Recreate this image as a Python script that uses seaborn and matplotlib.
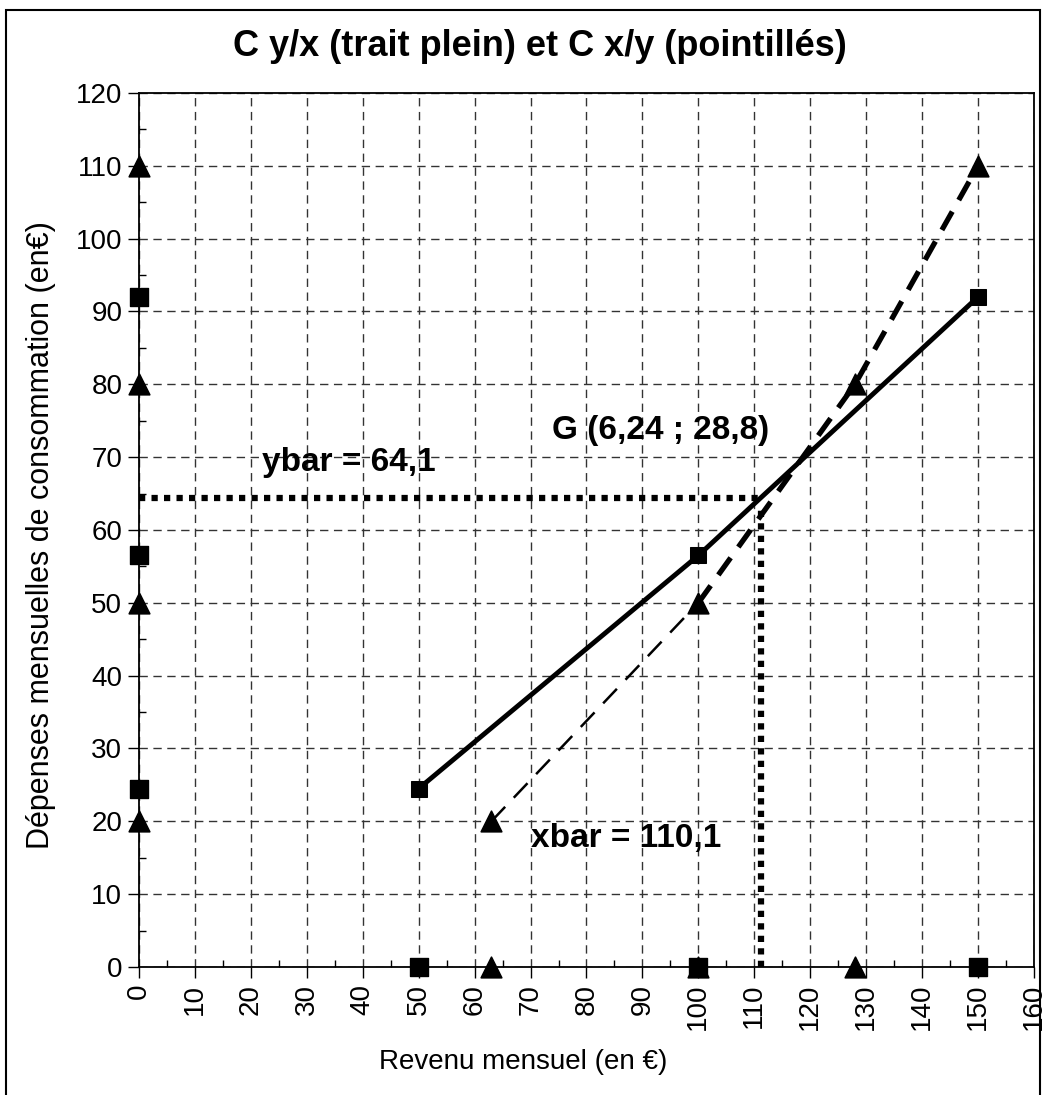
import numpy as np
import pandas as pd
import matplotlib
matplotlib.use("Agg")
import matplotlib.pyplot as plt
from matplotlib.patches import Rectangle
import seaborn as sns

# Droite C y/x (trait plein) : points carres
yx_revenu = [50, 100, 150]
yx_depense = [24.5, 56.5, 92]

# Droite C x/y (pointilles) : points triangles
xy_revenu = [63, 100, 128, 150]
xy_depense = [20, 50, 80, 110]

# Point moyen
xbar_line = 111.2
ybar_line = 64.4
g_label = "G (6,24 ; 28,8)"
ybar_label = "ybar = 64,1"
xbar_label = "xbar = 110,1"

x_ticks = list(range(0, 161, 10))
y_ticks = list(range(0, 121, 10))

sns.set_style("white")
plt.rcParams['font.family'] = ['Liberation Sans', 'DejaVu Sans']
plt.rcParams['text.color'] = 'black'
plt.rcParams['axes.labelcolor'] = 'black'
plt.rcParams['xtick.color'] = 'black'
plt.rcParams['ytick.color'] = 'black'

fig = plt.figure(figsize=(10.46, 10.95), dpi=100)
ax = fig.add_axes([0.1329, 0.1169, 0.8556, 0.7982])

# grille pointillee
ax.set_xticks(x_ticks)
ax.set_yticks(y_ticks)
ax.set_xticks(np.arange(5, 160, 10), minor=True)
ax.set_yticks(np.arange(5, 120, 10), minor=True)
ax.grid(True, which='major', color='#333333', linestyle=(0, (6, 4)), linewidth=1)
ax.set_axisbelow(True)

# lignes moyennes (pointilles epais)
ax.plot([0, xbar_line], [ybar_line, ybar_line], color='black', lw=4.5,
        linestyle=(0, (1, 1)), dash_capstyle='butt', zorder=3)
ax.plot([xbar_line, xbar_line], [0, 62.7], color='black', lw=4.5,
        linestyle=(0, (1, 1)), dash_capstyle='butt', zorder=3)

# C y/x
yx = pd.DataFrame({'revenu': yx_revenu, 'depense': yx_depense})
sns.lineplot(data=yx, x='revenu', y='depense', ax=ax, color='black', lw=3.5,
             marker='s', markersize=12, markeredgecolor='black', zorder=4)

# C x/y
xy = pd.DataFrame({'revenu': xy_revenu, 'depense': xy_depense})
sns.lineplot(data=xy.iloc[:2], x='revenu', y='depense', ax=ax, color='black',
             lw=1.8, zorder=4)
ax.lines[-1].set_linestyle((0, (8, 5)))
sns.lineplot(data=xy.iloc[1:], x='revenu', y='depense', ax=ax, color='black',
             lw=3.8, zorder=4)
ax.lines[-1].set_linestyle((0, (4, 2.5)))
sns.scatterplot(data=xy, x='revenu', y='depense', ax=ax, color='black',
                marker='^', s=220, edgecolor='black', zorder=5)

# projections sur les axes
sns.scatterplot(x=[0] * len(yx_depense), y=yx_depense, ax=ax, color='black',
                marker='s', s=150, edgecolor='black', clip_on=False, zorder=6)
sns.scatterplot(x=yx_revenu, y=[0] * len(yx_revenu), ax=ax, color='black',
                marker='s', s=150, edgecolor='black', clip_on=False, zorder=6)
sns.scatterplot(x=[0] * len(xy_depense), y=xy_depense, ax=ax, color='black',
                marker='^', s=220, edgecolor='black', clip_on=False, zorder=6)
sns.scatterplot(x=xy_revenu[:3], y=[0] * 3, ax=ax, color='black',
                marker='^', s=220, edgecolor='black', clip_on=False, zorder=6)

ax.set_xlim(0, 160)
ax.set_ylim(0, 120)

# textes
ax.text(22, 69.3, ybar_label, fontsize=24, fontweight='bold', va='center', ha='left')
ax.text(73.8, 73.6, g_label, fontsize=24, fontweight='bold', va='center', ha='left')
ax.text(70, 17.7, xbar_label, fontsize=24, fontweight='bold', va='center', ha='left')

ax.set_title("C y/x (trait plein) et C x/y (pointillés)", fontsize=26,
             fontweight='bold', x=0.448, y=1.033)
ax.set_xlabel("Revenu mensuel (en €)", fontsize=20)
ax.set_ylabel("Dépenses mensuelles de consommation (en€)", fontsize=22)
ax.xaxis.set_label_coords(0.429, -0.094)
ax.yaxis.set_label_coords(-0.093, 0.494)

ax.tick_params(axis='both', which='major', direction='out', length=8, width=1,
               color='black', labelsize=20, pad=4)
ax.tick_params(axis='both', which='minor', direction='in', length=5, width=1,
               color='black')
ax.tick_params(axis='x', which='major', labelrotation=90)
ax.tick_params(axis='both', which='both', bottom=True, left=True)

for side in ['left', 'bottom', 'top', 'right']:
    ax.spines[side].set_visible(True)
    ax.spines[side].set_color('black')
    ax.spines[side].set_linewidth(1.3)

if ax.get_legend() is not None:
    ax.get_legend().remove()

# cadre autour du graphique
fig.patches.append(Rectangle((6 / 1046, -0.02), 1034 / 1046, 1.02 - 10 / 1095,
                             transform=fig.transFigure, fill=False,
                             edgecolor='black', lw=1.5))

fig.savefig("out.png", dpi=100)
